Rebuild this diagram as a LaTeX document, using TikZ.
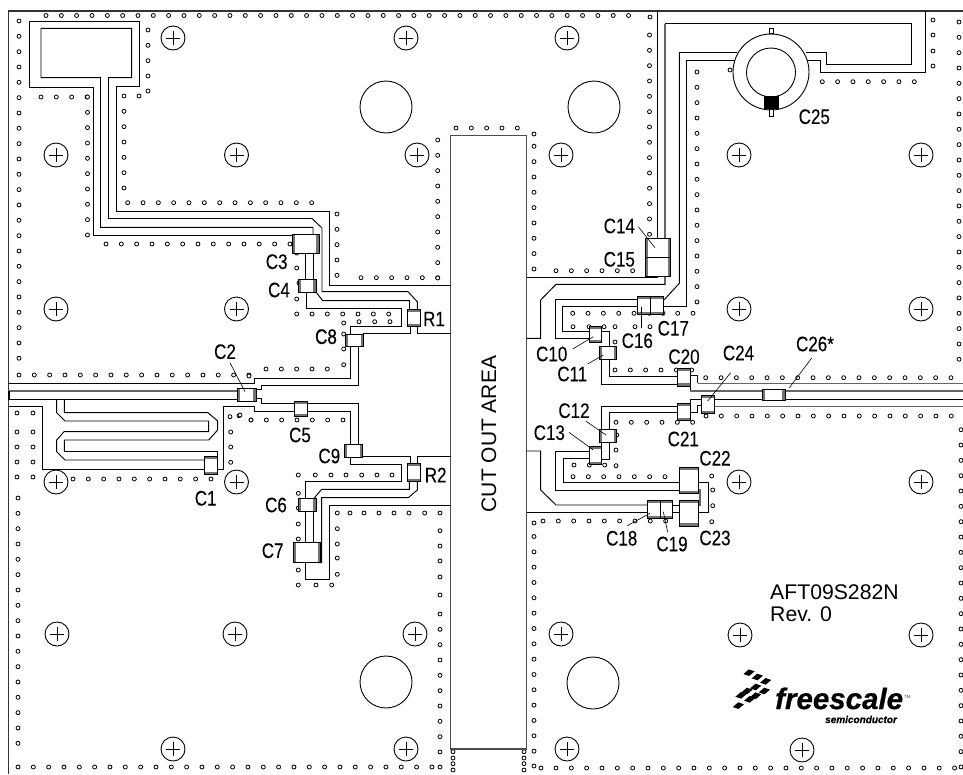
\documentclass[tikz,border=0pt]{standalone}
\usepackage{fontspec}
\setmainfont{Liberation Sans}
\newfontfamily\lab[FakeStretch=0.81,FakeBold=0.15]{Liberation Sans}
\newfontfamily\labb[FakeStretch=0.81,FakeBold=0.9]{Liberation Sans}
\newfontfamily\logof[FakeBold=0.6]{Liberation Sans}
\tikzset{
  via/.style={draw=black,line width=0.8pt,fill=white},
  trace/.style={draw=black,line width=0.95pt,line join=miter},
  gtrace/.style={draw=black!60,line width=1.3pt},
  comp/.style={draw=black,line width=0.9pt,fill=white},
  band/.style={fill=black!55},
  hole/.style={draw=black,line width=0.9pt,fill=white},
  leader/.style={draw=black,line width=0.6pt},
  clabel/.style={inner sep=0pt,font=\lab\fontsize{21}{22}\selectfont},
  tile/.style={fill=black}
}
\newcommand\vrow[3]{\foreach \k in {0,...,#3}{\draw[via] ({#2+\k*15.33},#1) circle[radius=2];}}
\newcommand\vcol[3]{\foreach \k in {0,...,#3}{\draw[via] (#1,{#2+\k*15.33}) circle[radius=2];}}
\newcommand\vlist[1]{\foreach \q in {#1}{\draw[via] \q circle[radius=2];}}
\newcommand\cross[2]{\draw[hole] (#1,#2) circle[radius=12]; \draw[line width=0.6pt] ({#1-7},#2) -- ({#1+7},#2) ({#1},{#2-7}) -- ({#1},{#2+7});}
% component with end bands left/right
\newcommand\comph[4]{\draw[comp] (#1,#2) rectangle (#3,#4); \fill[band] (#1,#2) rectangle ({#1+2.6},#4); \fill[band] ({#3-2.6},#2) rectangle (#3,#4); \draw[line width=0.9pt] (#1,#2) rectangle (#3,#4);}
% component with end bands top/bottom
\newcommand\compv[4]{\draw[comp] (#1,#2) rectangle (#3,#4); \fill[band] (#1,#2) rectangle (#3,{#2+2.6}); \fill[band] (#1,{#4-2.6}) rectangle (#3,#4); \draw[line width=0.9pt] (#1,#2) rectangle (#3,#4);}
\newcommand\tl[2]{\fill[tile] ({725+#1/3-5.6},{655+#2/3+1.4}) -- ({725+#1/3-0.2},{655+#2/3-3.3}) -- ({725+#1/3+5.6},{655+#2/3-1.4}) -- ({725+#1/3+0.2},{655+#2/3+3.3}) -- cycle;}
\begin{document}
\begin{tikzpicture}[x=1pt,y=-1pt]
\useasboundingbox (0,0) rectangle (963,774);
\fill[white] (0,0) rectangle (963,774);
% frame
\draw[line width=1.3pt,black!80] (8.5,774) -- (8.5,11) -- (963,11);
% ---------- vias ----------
\vrow{15.5}{46}{38}
\vcol{19}{21}{22}
\vrow{375}{19}{15}
\vlist{(17,413),(33,413),(17,432),(33,432),(17,447),(33,447),(17,462),(33,462),(17,477),(33,477)}
\vcol{18}{498}{16}
\vrow{767}{18}{27}
\vlist{(440,767)}
\vrow{479}{73}{9}
\vlist{(230,416.7),(239,415.7),(251,420),(230.7,432),(230.7,447),(230.7,462.3)}
\vrow{97}{41}{3}
\vcol{87.5}{97}{9}
\vrow{244}{106}{12}
\vcol{124}{96}{6}
\vlist{(139,96),(148,91)}
\vcol{148}{30}{3}
\vrow{202.7}{127.7}{12}
\vcol{337}{214}{4}
\vrow{277.7}{361}{5}
\vcol{437.7}{140}{9}
\vlist{(296.7,253),(296.7,268),(299,283),(296.7,299)}
\vrow{314}{296.7}{6}
\vlist{(343.7,323),(359,321.7),(374.7,321.7),(390,321.7),(343.7,334),(343.7,349),(343.7,364.7)}
\vrow{369}{266}{4}
\vlist{(249,376),(240,415)}
\vrow{420}{251}{6}
% lower left inner
\vlist{(298.3,475),(315.3,475),(331,475),(346,475),(361.7,475),(377,475),(392,475)}
\vlist{(298.3,493.3),(298.3,508),(298.3,524),(298.3,539),(298.3,570),(298.3,585),(316,585),(331.7,585)}
\vlist{(337.3,513),(350,513),(364,513),(379,513),(394,513),(409,513),(424.7,513),(440,513)}
\vlist{(337.3,528.7),(337.3,544),(337.3,558),(337.3,574.3)}
\vlist{(440,530.7),(440,546),(440,561),(440,577),(440,595)}
\vcol{440}{614}{9}
% cut-out surroundings
\vrow{128}{456}{4}
\vlist{(534,134)}
\vcol{534}{146.3}{8}
\vlist{(453,751.7),(453,758),(453,763.7),(453,770),(524,751.7),(524,758),(524,763.7),(524,770)}
\vlist{(534,523)}
\vcol{534}{536.5}{14}
\vlist{(534,766),(541,768)}
\vrow{768}{556}{26}
\vcol{961}{429.7}{22}
% top right
\vrow{270.7}{556}{5}
\vcol{649.5}{35}{13}
\vlist{(650,17),(730,70)}
\vcol{697}{72}{15}
\vrow{81.7}{822.3}{6}
\vlist{(933,20),(933,35),(933,51),(933,66)}
\vcol{959}{22}{22}
% right mid
\vrow{313.3}{572.7}{5}
\vlist{(663,313.3),(677.7,313.3),(693,313.3)}
\vlist{(573,326.7),(589,326.7),(604,326.7),(615,326.7),(635,326.7),(650,326.7),(615,342)}
\vrow{370}{615}{5}
\vrow{377.7}{705.7}{16}
\vrow{416}{706}{16}
\vrow{422.3}{616}{5}
\vlist{(616,450),(616,465.7),(616.7,435),(574,465),(589.3,465),(604.7,465)}
\vrow{476.7}{573}{6}
\vlist{(711.7,476),(712.7,490),(712.7,505.7),(711.7,521.7)}
\vrow{521}{543}{8}
% ---------- crosshairs ----------
\cross{173}{38}\cross{406}{38}\cross{567}{38}
\cross{56}{155}\cross{236.5}{155}\cross{417}{155}\cross{561}{155}\cross{739}{155}\cross{921}{155}
\cross{56}{309}\cross{236.5}{309}\cross{739}{309}\cross{921}{309}
\cross{56}{482}\cross{236.5}{482}\cross{739}{482}\cross{921}{482}
\cross{57}{634}\cross{235}{634}\cross{415}{634}\cross{561}{634}\cross{740}{635}\cross{921}{635}
\cross{173}{749}\cross{406}{749}\cross{567}{749}\cross{802}{750}
% mounting holes
\draw[hole] (386,107) circle[radius=26];
\draw[hole] (594,107) circle[radius=26];
\draw[hole] (386,682) circle[radius=26];
\draw[hole] (593,683) circle[radius=26];
% cut out area
\draw[line width=1.3pt,black!70] (450.5,135.7) rectangle (526.5,749);
% ---------- traces: top left ----------
\draw[trace] (292,235) -- (93,235) -- (93,87.3) -- (29.5,87.3) -- (29.5,21.7) -- (139.5,21.7) -- (139.5,86) -- (116,86) -- (116,211.3) -- (329.5,211.3) -- (329.5,285) -- (451,285);
\draw[trace] (313,235) -- (313,227.3) -- (100.5,227.3) -- (100.5,77.7) -- (41,77.7) -- (41,28.3) -- (131.7,28.3) -- (131.7,77.7) -- (108.5,77.7) -- (108.5,218.5) -- (312,218.5) -- (322,228) -- (322,291.7) -- (408,291.7) -- (417.3,301.7) -- (417.3,310);
\draw[trace] (305,253) -- (305,280) (313,253) -- (313,280);
\draw[trace] (316,292) -- (322.7,300.7) -- (409.5,300.7) -- (409.5,310);
\draw[trace] (306,292) -- (306,308.3) -- (401.7,308.3) -- (401.7,326) -- (350,326) -- (350,335);
\draw[trace] (410,326) -- (410,333.5) -- (363,333.5);
\draw[trace] (417.3,326) -- (417.3,333.7) -- (451,333.7);
\draw[trace] (350,346) -- (350,378.7) -- (254.3,378.7) -- (254.3,383.3) -- (8,383.3);
\draw[trace] (358.3,346) -- (358.3,385.7) -- (261.7,385.7) -- (261.7,389.5) -- (256,389.5);
% feed line
\draw[gtrace] (8,391) -- (238,391);
\draw[line width=2pt] (8.5,391) -- (8.5,399);
\draw[trace] (8,399.3) -- (238,399.3);
% meander
\draw[trace] (8,406.7) -- (42.7,406.7) -- (42.7,469) -- (204,469);
\draw[trace] (217,469) -- (223.3,469) -- (223.3,406.7) -- (254.3,406.7) -- (254.3,411.7) -- (294,411.7);
\draw[trace] (56.7,399.3) -- (56.7,412.7) -- (65,421) -- (208.7,421) -- (208.7,431.7) -- (64,431.7) -- (56.7,440) -- (56.7,451.7) -- (65,460) -- (204.5,460);
\draw[trace] (64.3,399.3) -- (64.3,412.7) -- (208,412.7) -- (217.7,421) -- (217.7,430) -- (208.7,440) -- (64.3,440) -- (64.3,451.5) -- (217.5,451.5) -- (217.5,456);
% C2 to C5
\draw[trace] (256,398.5) -- (261.7,398.5) -- (261.7,403.7) -- (294,403.7);
\draw[trace] (307.7,403.7) -- (358.3,403.7) -- (358.3,444.3);
\draw[trace] (307.7,411.7) -- (350,411.7) -- (350,444.3);
\draw[trace] (362.7,456.7) -- (410,456.7) -- (410,463.5);
\draw[trace] (417.3,463.5) -- (417.3,456.7) -- (451,456.7);
\draw[trace] (350,457.3) -- (350,464) -- (401.7,464) -- (401.7,481) -- (305.7,481) -- (305.7,498.3);
\draw[trace] (409.3,481.7) -- (409.3,489.3) -- (321.7,489.3) -- (314,498.3);
\draw[trace] (417.3,481.7) -- (417.3,490) -- (408.3,497.7) -- (321.7,497.7) -- (321.7,562.7) -- (318,562.7);
\draw[trace] (451,505) -- (329.3,505) -- (329.3,579.3) -- (305.7,579.3) -- (305.7,562);
\draw[trace] (305.7,511) -- (305.7,542.3) (313.3,511) -- (313.3,542.3);
% ---------- traces: right ----------
\draw[trace] (526.5,277.3) -- (657.3,277.3) -- (657.3,11);
\draw[trace] (925,11) -- (925,72) -- (820,72) -- (820,60.5) -- (806,60.5);
\draw[gtrace] (665,24) -- (665,284.3);
\draw[trace] (665,23.3) -- (911,23.3) -- (911,64) -- (826,64) -- (826,52.5) -- (806,52.5);
\draw[trace] (737,52.5) -- (679.3,52.5) -- (679.3,283.3) -- (664,300);
\draw[trace] (735,60.5) -- (686.7,60.5) -- (686.7,306.7) -- (664,306.7);
\draw[trace] (665.7,284.3) -- (556,284.3) -- (540.7,300) -- (540.7,338.3) -- (526.5,338.3);
\draw[trace] (637.3,299.3) -- (555.7,299.3) -- (555.7,338.3) -- (589,338.3);
\draw[trace] (637.3,306.7) -- (562.3,306.7) -- (562.3,331.3) -- (589,331.3);
\draw[trace] (601.7,331) -- (609.3,331) -- (609.3,346.7);
\draw[trace] (601.7,359) -- (601.7,384) -- (677.3,384);
\draw[trace] (609,359) -- (609,376.7) -- (677.3,376.7);
\draw[trace] (690,375.7) -- (697.7,375.7) -- (697.7,383.3);
\draw[gtrace] (697.7,383.3) -- (963,383.3);
\draw[trace] (690,386) -- (690,391);
\draw[gtrace] (690,391) -- (963,391);
\draw[trace] (690,403.3) -- (690,399.3) -- (701.7,399.3);
\draw[trace] (714,399.3) -- (963,399.3);
\draw[gtrace] (714,406.7) -- (963,406.7);
\draw[trace] (690,412.7) -- (697.3,412.7) -- (697.3,405) -- (701.7,405);
\draw[trace] (677.3,406) -- (601.7,406) -- (601.7,430);
\draw[trace] (677.3,412.7) -- (609.3,412.7) -- (609.3,430);
\draw[trace] (609.3,442) -- (609.3,459.3) -- (601.7,459.3);
\draw[trace] (601.7,442) -- (601.7,446);
\draw[trace] (589,451) -- (555.7,451) -- (555.7,490) -- (679.3,490);
\draw[trace] (589,458.3) -- (563.3,458.3) -- (563.3,482.7) -- (679.3,482.7);
\draw[trace] (698.3,482.3) -- (708.3,482.3) -- (708.3,512.7) -- (698.3,512.7);
\draw[gtrace] (698.3,490) -- (700,490) -- (700,505) -- (698.3,505);
\draw[trace] (647.3,505) -- (556,505) -- (540.7,490) -- (540.7,451) -- (526.5,451);
\draw[trace] (647.3,512.7) -- (526.5,512.7);
\draw[trace] (672.7,505) -- (679.3,505) (672.7,512.7) -- (679.3,512.7);
% ---------- components ----------
\comph{292}{234.3}{319}{253.3}
\comph{298}{279.3}{316}{292}
\compv{407.3}{309}{420}{326.7}
\comph{345.7}{334}{363.3}{346.7}
\comph{237.3}{388.3}{256}{401}
\compv{204.3}{456}{217.3}{474.3}
\compv{294.3}{401}{307.7}{416.7}
\comph{344.3}{444.3}{362.7}{457.3}
\compv{407.3}{463.3}{420}{481.7}
\comph{298.3}{498.3}{316}{511}
\comph{293.3}{542.3}{320.3}{562.3}
\comph{645}{238.3}{670.7}{257.3}
\comph{645}{257.3}{670.7}{276.7}
\compv{637.3}{296.7}{650.7}{314.3}
\compv{650.7}{296.7}{663.3}{314.3}
\compv{589}{326}{601.7}{342.7}
\comph{599}{346.7}{616.7}{359.3}
\compv{677.3}{368.3}{690}{386}
\compv{701.7}{395}{714}{413.3}
\comph{762.3}{389.3}{785}{400}
\compv{677.3}{403.3}{690}{420.7}
\comph{599}{429.3}{616.7}{442.3}
\compv{589}{446}{601.7}{464.3}
\compv{679.3}{467.7}{698.3}{493.3}
\compv{679.3}{500}{698.3}{526}
\compv{647.3}{500.7}{660}{518.3}
\compv{660}{500.7}{672.7}{518.3}
% ---------- connector ring ----------
\draw[hole] (771,72) circle[radius=38];
\draw[hole] (771,72.5) circle[radius=24.5];
\fill[black] (764,95.7) rectangle (779.3,109);
\draw[line width=0.7pt,fill=white] (769.3,28) rectangle (773,33);
\draw[line width=0.7pt,fill=white] (769.5,109.5) rectangle (773.5,116);
% ---------- leaders ----------
\draw[leader] (230,362.7) -- (245,391.7);
\draw[leader] (638.3,226.7) -- (655,247.7);
\draw[leader] (572.7,349) -- (593.3,336.7);
\draw[leader] (587.7,364) -- (603.3,355);
\draw[leader] (641.7,328.3) -- (641.7,306.7);
\draw[leader] (585.7,421) -- (606,435);
\draw[leader] (569,432.3) -- (593.3,450);
\draw[leader] (627.3,525.7) -- (650,513.3);
\draw[leader] (667.7,532.3) -- (663.3,511.7);
\draw[leader] (730.7,372.7) -- (707.7,401);
\draw[leader] (811.7,358) -- (789.3,387.7);
% ---------- labels ----------
\node[clabel] (lC1) at (205.7,498.3) {C1};
\node[clabel] (lC2) at (225,351.7) {C2};
\node[clabel] (lC3) at (276.7,261.7) {C3};
\node[clabel] (lC4) at (279,290) {C4};
\node[clabel] (lC5) at (300,435) {C5};
\node[clabel] (lC6) at (276,505) {C6};
\node[clabel] (lC7) at (272.7,550.7) {C7};
\node[clabel,font=\labb\fontsize{21}{22}\selectfont] (lC8) at (326,336.7) {C8};
\node[clabel] (lC9) at (329.3,456) {C9};
\node[clabel] (lR1) at (434,319) {R1};
\node[clabel] (lR2) at (435.7,475) {R2};
\node[clabel] (lC10) at (551.7,354) {C10};
\node[clabel] (lC11) at (572.3,374) {C11};
\node[clabel] (lC12) at (574,410.7) {C12};
\node[clabel] (lC13) at (549.3,432.7) {C13};
\node[clabel] (lC14) at (619.3,226) {C14};
\node[clabel] (lC15) at (619.3,259.3) {C15};
\node[clabel] (lC16) at (637.3,340.7) {C16};
\node[clabel] (lC17) at (673.3,328.3) {C17};
\node[clabel] (lC18) at (621.7,538.3) {C18};
\node[clabel] (lC19) at (672,544) {C19};
\node[clabel] (lC20) at (684,356.7) {C20};
\node[clabel] (lC21) at (683.3,439) {C21};
\node[clabel] (lC22) at (715,458.3) {C22};
\node[clabel] (lC23) at (715,538) {C23};
\node[clabel] (lC24) at (738.5,353) {C24};
\node[clabel] (lC25) at (814.3,116.7) {C25};
\node[clabel] (lC26) at (815,344) {C26*};
\node[inner sep=0pt,rotate=90,font=\fontsize{21}{22}\selectfont] (cut) at (489,434) {CUT OUT AREA};
\node[inner sep=0pt,anchor=base west,font=\fontsize{21.2}{22}\selectfont] (part) at (770,599) {AFT09S282N};
\node[inner sep=0pt,anchor=base west,font=\fontsize{21.2}{22}\selectfont] (rev) at (770,621.7) {Rev. 0};
% ---------- logo ----------
\tl{72}{53}\tl{97}{66}\tl{122}{79}\tl{92}{96}\tl{118}{108}\tl{66}{108}\tl{92}{122}\tl{48}{121}\tl{74}{133}\tl{40}{152}
\node[inner sep=0pt,anchor=base west,font=\logof\bfseries\itshape\fontsize{29.5}{30}\selectfont] (logo) at (775,709) {freescale};
\node[inner sep=0pt,anchor=base west,font=\fontsize{4.5}{5}\selectfont,text=black!70] (tm) at (904,698) {TM};
\node[inner sep=0pt,anchor=base west,font=\logof\bfseries\itshape\fontsize{10}{11}\selectfont] (semi) at (825,723) {semiconductor};
\end{tikzpicture}
\end{document}
